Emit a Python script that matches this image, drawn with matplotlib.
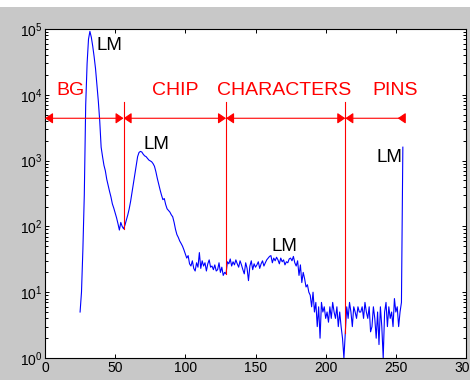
import numpy as np
import matplotlib.pyplot as plt
from matplotlib.patches import Rectangle

# ------------------------------------------------------
# histogram data (grey level bins 25..255, counts)
first_bin = 25
counts = [
    5, 10, 45, 300, 7000,                                        # 25-29
    30000, 70000, 92000, 75000, 55000, 38000, 25000, 14000, 8000, 4000,  # 30-39
    1600, 1150, 850, 700, 520, 420, 340, 280, 220, 190,          # 40-49
    160, 135, 110, 88, 115, 100, 92, 105, 125, 150,              # 50-59
    185, 240, 330, 460, 620, 850, 1150, 1330, 1380, 1350,        # 60-69
    1250, 1180, 1150, 1080, 1020, 990, 960, 900, 820, 680,       # 70-79
    540, 440, 360, 300, 255, 265, 215, 185, 175, 165,            # 80-89
    150, 140, 115, 90, 75, 68, 60, 55, 50, 44,                   # 90-99
    38, 33, 36, 27, 25, 30, 23, 21, 28, 24,                      # 100-109
    40, 23, 30, 25, 28, 21, 27, 31, 24, 25,                      # 110-119
    22, 26, 21, 22, 28, 20, 24, 18, 20, 19,                      # 120-129
    29, 27, 32, 25, 29, 26, 31, 27, 24, 30,                      # 130-139
    26, 22, 19, 28, 23, 15, 25, 30, 22, 27,                      # 140-149
    24, 26, 29, 23, 27, 30, 25, 28, 31, 33,                      # 150-159
    35, 36, 28, 33, 30, 34, 31, 27, 33, 29,                      # 160-169
    31, 26, 29, 28, 32, 33, 30, 35, 28, 25,                      # 170-179
    30, 18, 26, 14, 20, 16, 12, 13, 10, 9,                       # 180-189
    6, 10, 5, 7, 3, 6, 2, 7, 5, 6,                               # 190-199
    4, 5, 3.5, 6, 4, 7, 5, 4, 6, 3,                              # 200-209
    5, 3, 2, 1, 2.4, 6, 4, 7, 5, 3,                              # 210-219
    6, 5, 4, 6, 5, 5, 6, 4, 7, 5,                                # 220-229
    4, 6, 2.5, 3, 6, 4, 2, 5, 1.6, 6,                            # 230-239
    3, 1, 5, 7, 3, 6, 4, 5, 3, 8,                                # 240-249
    5, 6, 3, 5, 7, 1600,                                         # 250-255
]
bins = np.arange(first_bin, first_bin + len(counts))

# regions and their labels
boundaries = [0, 56, 129, 214, 256]
region_names = ['BG', 'CHIP', 'CHARACTERS', 'PINS']
region_text_x = [7.8, 76, 122.4, 233.6]
region_text_y = 1.0e4
arrow_y = 4400
divider_top = 7850

# local maxima labels
lm_x = [36.8, 70.1, 161.6, 236.4]
lm_y = [48000, 1485, 42.7, 962]
# ------------------------------------------------------

gray = '#c8c8c8'
label_font = ['Liberation Sans', 'DejaVu Sans']

fig = plt.figure(figsize=(4.7, 3.8), dpi=100, facecolor=gray)
# white margin of the original screenshot
fig.add_artist(Rectangle((0, 1 - 7 / 380), 1, 7 / 380, transform=fig.transFigure,
                         facecolor='white', edgecolor='none'))

ax = fig.add_axes([45 / 470, 22 / 380, 421 / 470, 329 / 380])
ax.set_facecolor('white')
ax.set_yscale('log')
ax.set_xlim(0, 300)
ax.set_ylim(1, 1e5)
ax.set_xticks(np.arange(0, 301, 50))

# histogram
ax.plot(bins, counts, color='#0000ff', lw=0.8)

# region dividers
counts_arr = np.array(counts)
for b in boundaries[1:-1]:
    ax.plot([b, b], [counts_arr[b - first_bin], divider_top], color='red', lw=0.8)

# arrows between boundaries
head = 'head_length=0.47,head_width=0.32'
for a, b in zip(boundaries[:-2], boundaries[1:-1]):
    ax.annotate('', xy=(b, arrow_y), xytext=(a, arrow_y),
                arrowprops=dict(arrowstyle='<|-|>,' + head, color='red', lw=0.8,
                                shrinkA=0, shrinkB=0, mutation_scale=10))
ax.annotate('', xy=(boundaries[-1], arrow_y), xytext=(boundaries[-2], arrow_y),
            arrowprops=dict(arrowstyle='<|-,' + head, color='red', lw=0.8,
                            shrinkA=0, shrinkB=0, mutation_scale=10))
ax.annotate('', xy=(boundaries[-1], arrow_y), xytext=(-4.7, 0), textcoords='offset points',
            arrowprops=dict(arrowstyle='<|-,' + head, color='red', lw=0.8,
                            shrinkA=0, shrinkB=0, mutation_scale=10))

for name, tx in zip(region_names, region_text_x):
    ax.text(tx, region_text_y, name, color='red', fontsize=14, family=label_font,
            ha='left', va='baseline')

for tx, ty in zip(lm_x, lm_y):
    ax.text(tx, ty, 'LM', color='black', fontsize=13.5, family=label_font,
            ha='left', va='baseline')

# axes styling
for s in ax.spines.values():
    s.set_linewidth(0.8)
    s.set_color('black')
ax.tick_params(which='both', direction='in', top=True, right=True, width=0.7)
ax.tick_params(which='major', length=3, pad=2)
ax.tick_params(which='minor', length=2)
ax.tick_params(axis='x', which='minor', bottom=False, top=False)
for lbl in ax.get_xticklabels() + ax.get_yticklabels():
    lbl.set_family(label_font)
    lbl.set_fontsize(10)

fig.savefig('out.png', dpi=100, facecolor=gray)
